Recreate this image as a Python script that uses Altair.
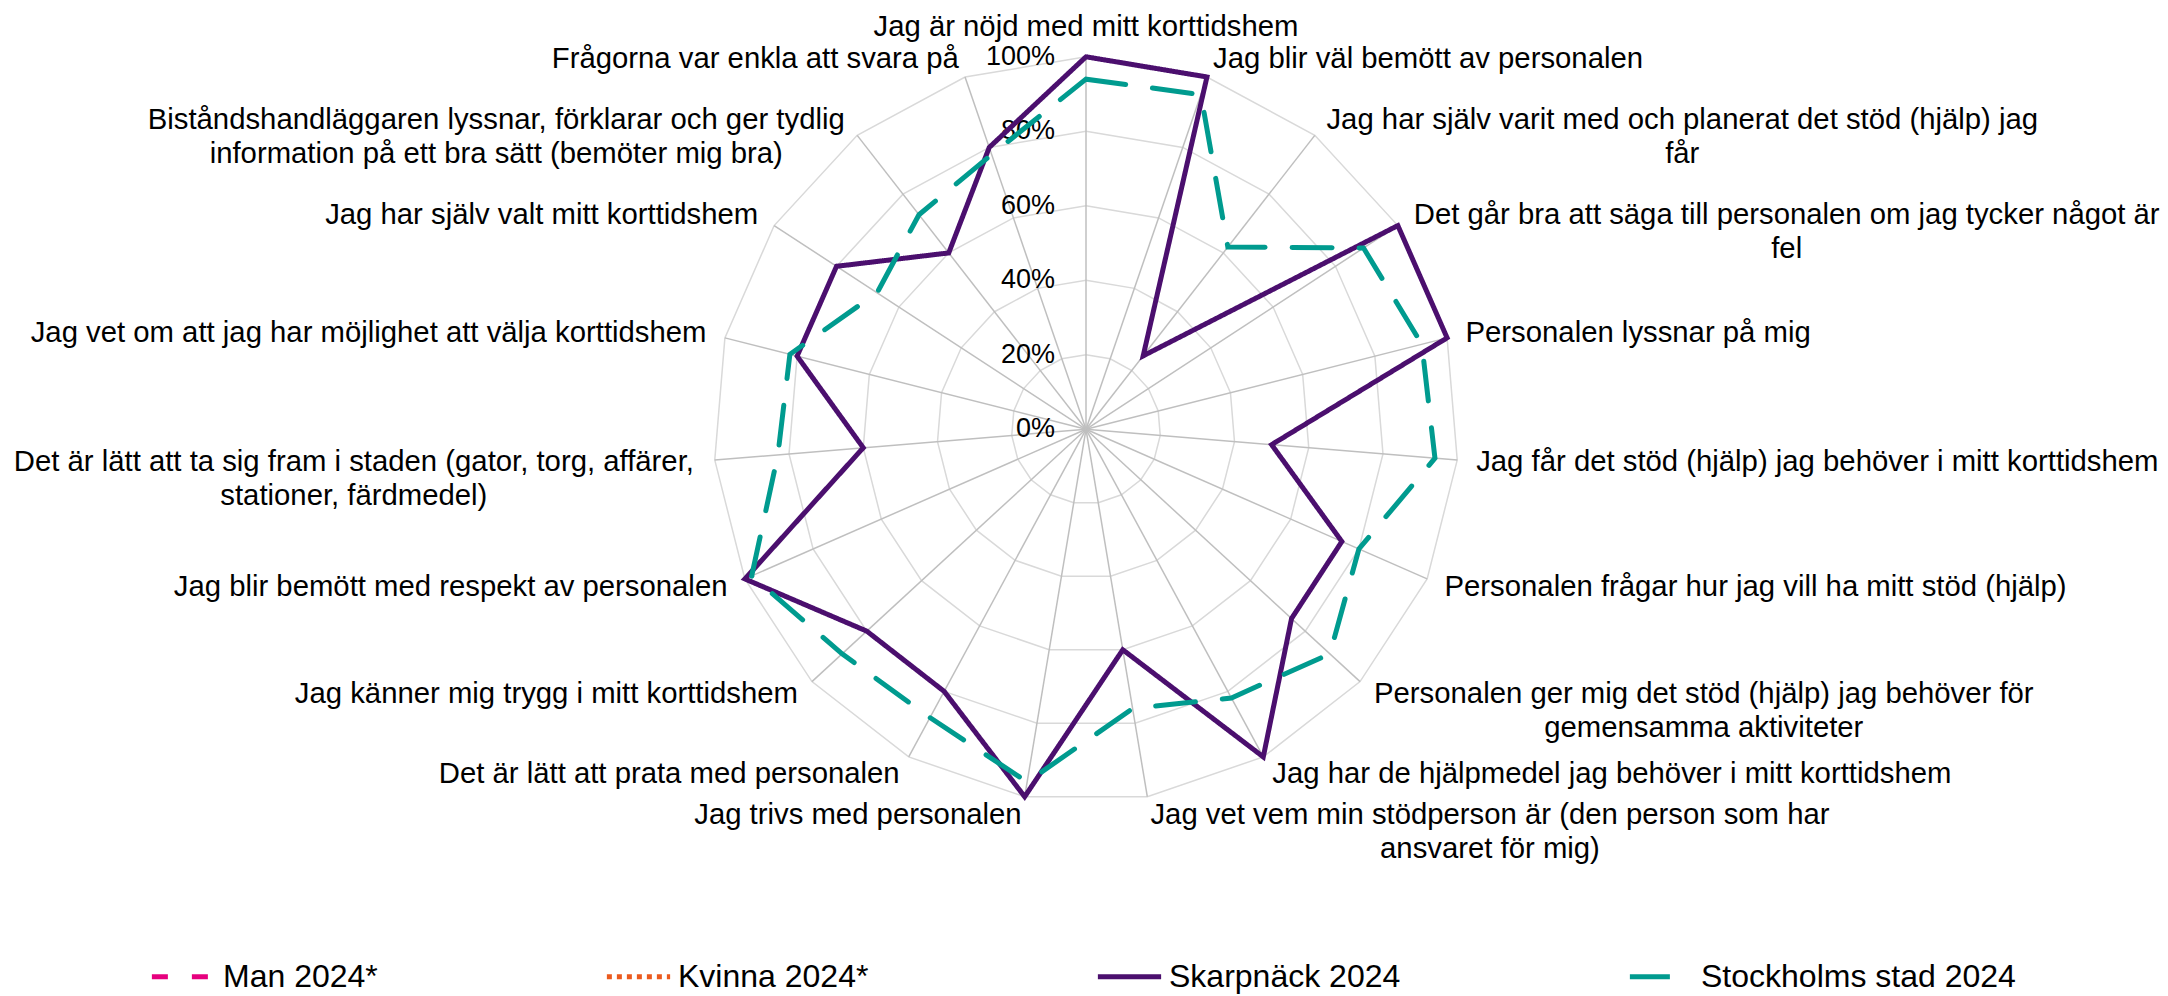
import altair as alt
import pandas as pd

# ---------------- data ----------------
categories = [
    ["Jag är nöjd med mitt korttidshem"],
    ["Jag blir väl bemött av personalen"],
    ["Jag har själv varit med och planerat det stöd (hjälp) jag", "får"],
    ["Det går bra att säga till personalen om jag tycker något är", "fel"],
    ["Personalen lyssnar på mig"],
    ["Jag får det stöd (hjälp) jag behöver i mitt korttidshem"],
    ["Personalen frågar hur jag vill ha mitt stöd (hjälp)"],
    ["Personalen ger mig det stöd (hjälp) jag behöver för", "gemensamma aktiviteter"],
    ["Jag har de hjälpmedel jag behöver i mitt korttidshem"],
    ["Jag vet vem min stödperson är (den person som har", "ansvaret för mig)"],
    ["Jag trivs med personalen"],
    ["Det är lätt att prata med personalen"],
    ["Jag känner mig trygg i mitt korttidshem"],
    ["Jag blir bemött med respekt av personalen"],
    ["Det är lätt att ta sig fram i staden (gator, torg, affärer,", "stationer, färdmedel)"],
    ["Jag vet om att jag har möjlighet att välja korttidshem"],
    ["Jag har själv valt mitt korttidshem"],
    ["Biståndshandläggaren lyssnar, förklarar och ger tydlig", "information på ett bra sätt (bemöter mig bra)"],
    ["Frågorna var enkla att svara på"],
]
skarpnack = [100, 100, 25, 100, 100, 50, 75, 75, 100, 60, 100, 80, 80, 100, 60, 80, 80, 60, 80]
stockholm = [94, 95, 62, 89, 93, 94, 80, 89, 82, 76, 96, 88, 89, 98, 83, 82, 67, 73, 78]
man = []      # no values shown
kvinna = []   # no values shown

series_names = ["Man 2024*", "Kvinna 2024*", "Skarpnäck 2024", "Stockholms stad 2024"]
series_colors = ["#E6007E", "#EB5A1E", "#4B0F6E", "#009B8F"]
series_dashes = [[16, 24], [5, 5], [1, 0], [40, 27]]

ring_levels = [20, 40, 60, 80, 100]
tick_values = [0, 20, 40, 60, 80, 100]
tick_labels = ["0%", "20%", "40%", "60%", "80%", "100%"]

# ---------------- layout ----------------
N = len(categories)
W, H = 2152, 988
R = 372.5          # px radius of 100 %
CX, CY = 1078, 421.3
GAP = 19
FONT = "Liberation Sans"
LABEL_SIZE = 29.3
LINE_H = 34

ARIAL = {
    "a": 556, "b": 556, "c": 500, "d": 556, "e": 556, "f": 278, "g": 556, "h": 556,
    "i": 222, "j": 222, "k": 500, "l": 222, "m": 833, "n": 556, "o": 556, "p": 556,
    "q": 556, "r": 333, "s": 500, "t": 278, "u": 556, "v": 500, "w": 722, "x": 500,
    "y": 500, "z": 500, "å": 556, "ä": 556, "ö": 556,
    "A": 667, "B": 667, "C": 722, "D": 722, "E": 667, "F": 611, "G": 778, "H": 722,
    "I": 278, "J": 500, "K": 667, "L": 556, "M": 833, "N": 722, "O": 778, "P": 667,
    "R": 722, "S": 667, "T": 611, "U": 722, "V": 667, "W": 944,
    " ": 278, "(": 333, ")": 333, ",": 278, ".": 278, "%": 889, "*": 389, "-": 333,
}


def text_px(s, size):
    return sum(ARIAL.get(ch, 556) for ch in s) * size / 1000.0


line_rows = []
for name, vals in [("Skarpnäck 2024", skarpnack), ("Stockholms stad 2024", stockholm),
                   ("Man 2024*", man), ("Kvinna 2024*", kvinna)]:
    for k, v in enumerate(vals):
        line_rows.append({"series": name, "k": k, "value": v})
lines_df = pd.DataFrame(line_rows)

ring_df = pd.DataFrame([{"level": lv, "k": k, "value": lv} for lv in ring_levels for k in range(N)])
spoke_df = pd.DataFrame([{"k": k, "value": v} for k in range(N) for v in (0, 100)])
tick_df = pd.DataFrame({"value": tick_values, "label": tick_labels})
label_df = pd.DataFrame({
    "k": list(range(N)),
    "text": ["\n".join(c) for c in categories],
    "halfw": [max(text_px(s, LABEL_SIZE) for s in c) / 2.0 for c in categories],
})

xscale = alt.Scale(domain=[-CX / R, (W - CX) / R], nice=False, zero=False)
yscale = alt.Scale(domain=[-(H - CY) / R, CY / R], nice=False, zero=False)
X = alt.X("px:Q", scale=xscale, axis=None)
Y = alt.Y("py:Q", scale=yscale, axis=None)

polar = dict(
    px=f"datum.value / 100 * sin(datum.k * 2 * PI / {N})",
    py=f"datum.value / 100 * cos(datum.k * 2 * PI / {N})",
)

rings = alt.Chart(ring_df).transform_calculate(**polar).mark_line(
    interpolate="linear-closed", color="#D9D9D9", strokeWidth=1.5
).encode(x=X, y=Y, detail="level:N", order="k:Q")

spokes = alt.Chart(spoke_df).transform_calculate(**polar).mark_line(
    color="#BFBFBF", strokeWidth=1.5
).encode(x=X, y=Y, detail="k:N", order="value:Q")

legend = alt.Legend(
    title=None, orient="none", legendX=141, legendY=934, direction="horizontal",
    columns=4, columnPadding=218, labelFont=FONT, labelFontSize=32, labelColor="#000000",
    labelLimit=600, labelOffset=5, symbolType="stroke", symbolSize=4000,
    symbolStrokeWidth=5,
)

series = alt.Chart(lines_df).transform_calculate(**polar).mark_line(
    interpolate="linear-closed", strokeWidth=5, strokeCap="round", strokeJoin="miter"
).encode(
    x=X, y=Y, order="k:Q",
    color=alt.Color("series:N", scale=alt.Scale(domain=series_names, range=series_colors), legend=legend),
    strokeDash=alt.StrokeDash("series:N", scale=alt.Scale(domain=series_names, range=series_dashes), legend=legend),
)

ticks = alt.Chart(tick_df).transform_calculate(
    px="0", py="datum.value / 100"
).mark_text(
    align="right", baseline="middle", dx=-31, font=FONT, fontSize=27, color="#000000"
).encode(x=X, y=Y, text="label:N")

label_calc = dict(
    ang=f"datum.k * 2 * PI / {N}",
)
label_pos = dict(
    side="sin(datum.ang) > 0.01 ? 1 : (sin(datum.ang) < -0.01 ? -1 : 0)",
)
label_xy = dict(
    px=f"(1 + {GAP} / {R}) * sin(datum.ang) + datum.side * datum.halfw / {R}",
    py=f"(1 + {GAP} / {R}) * cos(datum.ang)",
)

base_labels = alt.Chart(label_df).transform_calculate(**label_calc).transform_calculate(
    **label_pos).transform_calculate(**label_xy)

labels_top = base_labels.transform_filter("datum.k == 0").mark_text(
    align="center", baseline="bottom", dy=4, font=FONT, fontSize=LABEL_SIZE, color="#000000",
    lineBreak="\n", lineHeight=LINE_H
).encode(x=X, y=Y, text="text:N")

labels_rest = base_labels.transform_filter("datum.k != 0").mark_text(
    align="center", baseline="middle", font=FONT, fontSize=LABEL_SIZE, color="#000000",
    lineBreak="\n", lineHeight=LINE_H
).encode(x=X, y=Y, text="text:N")

chart = alt.layer(rings, spokes, ticks, labels_top, labels_rest, series).properties(
    width=W, height=H, autosize=alt.AutoSizeParams(type="none"), padding=0,
    background="#FFFFFF",
).configure_view(stroke=None)

chart.save("out.html", embed_options={"renderer": "svg", "actions": False})
